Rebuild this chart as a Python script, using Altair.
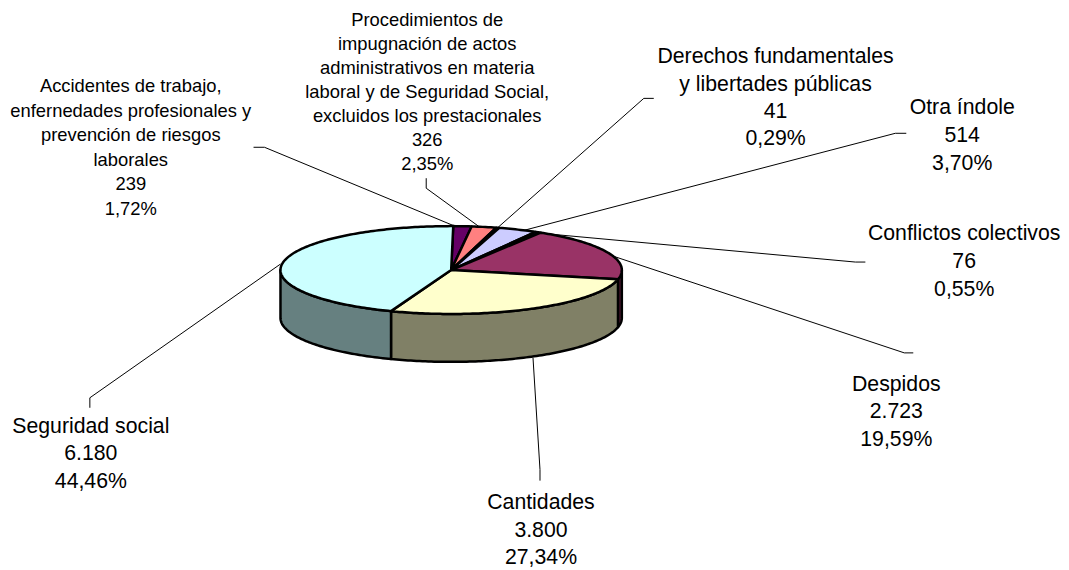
import math
import altair as alt
import pandas as pd

names = [
    ["Accidentes de trabajo,", "enfernedades profesionales y", "prevención de riesgos", "laborales"],
    ["Procedimientos de", "impugnación de actos", "administrativos en materia", "laboral y de Seguridad Social,", "excluidos los prestacionales"],
    ["Derechos fundamentales", "y libertades públicas"],
    ["Otra índole"],
    ["Conflictos colectivos"],
    ["Despidos"],
    ["Cantidades"],
    ["Seguridad social"],
]
values = [239, 326, 41, 514, 76, 2723, 3800, 6180]
value_labels = ["239", "326", "41", "514", "76", "2.723", "3.800", "6.180"]
top_colors = ["#660066", "#FF8080", "#0066CC", "#CCCCFF", "#000080", "#993366", "#FFFFCC", "#CCFFFF"]
side_colors = ["#330033", "#804040", "#003366", "#666680", "#000040", "#4D1933", "#808066", "#668080"]

# layout (image pixels)
W, H, M = 1069, 570, 8
CX, CY, RX, RY, DEPTH = 452, 270, 171, 44, 48
START = 0.7
label_x = [131, 428, 777, 964, 966, 898, 542, 91]
label_top = [86, 19, 57, 108, 234, 385, 503, 427]
label_step = [24.5, 24.2, 27.4, 28, 28, 27.5, 28, 27.5]
label_size = [18.4, 18.4, 21.3, 21.3, 21.3, 21.3, 21.3, 21.3]
leaders = [
    [(254, 147), (265, 147), (458, 227)],
    [(427, 178), (427, 188), (482, 228)],
    [(655, 98), (645, 98), (497, 229)],
    [(908, 133), (897, 133), (522, 231)],
    [(867, 262), (857, 262), (540, 233)],
    [(915, 353), (906, 353), (590, 248)],
    [(541, 481), (541, 470), (534, 358)],
    [(90, 408), (90, 398), (281, 264)],
]

total = sum(values)


def pt(deg, dy=0):
    r = math.radians(deg)
    return [CX + RX * math.sin(r), CY - RY * math.cos(r) + dy]


def arc(a0, a1):
    n = max(2, int(abs(a1 - a0)) + 2)
    return [a0 + (a1 - a0) * i / (n - 1) for i in range(n)]


def feature(ring, fill):
    ring = ring + [ring[0]]
    return {"type": "Feature", "properties": {"fill": fill},
            "geometry": {"type": "Polygon", "coordinates": [ring]}}


tops, sides = [], []
start = START
for v, tc, sc in zip(values, top_colors, side_colors):
    end = start + 360.0 * v / total
    tops.append(feature([[CX, CY]] + [pt(a) for a in arc(start, end)], tc))
    a0, a1 = max(start, 90.0), min(end, 270.0)
    if a1 > a0:
        ang = arc(a0, a1)
        sides.append(feature([pt(a) for a in ang] + [pt(a, DEPTH) for a in reversed(ang)], sc))
    start = end

text_rows = []
for i, (n, v) in enumerate(zip(names, value_labels)):
    pct = f"{100 * values[i] / total:.2f}".replace(".", ",") + "%"
    for j, line in enumerate(n + [v, pct]):
        text_rows.append({"text": line, "x": label_x[i], "y": label_top[i] + j * label_step[i],
                          "size": label_size[i]})

line_rows = [{"id": i, "o": j, "x": p[0], "y": p[1]} for i, l in enumerate(leaders) for j, p in enumerate(l)]

xs = alt.Scale(domain=[M, W - M], range=[0, W - 2 * M])
ys = alt.Scale(domain=[M, H - M], range=[0, H - 2 * M])
proj = alt.Projection(type="identity", scale=1, translate=[-M, -M])


def shapes(features):
    return (
        alt.Chart(alt.Data(values=features))
        .mark_geoshape(stroke="black", strokeWidth=2.5, strokeJoin="round")
        .encode(fill=alt.Fill("properties.fill:N", scale=None))
        .project(**proj.to_dict())
    )


lines = (
    alt.Chart(pd.DataFrame(line_rows))
    .mark_line(color="black", strokeWidth=1)
    .encode(x=alt.X("x:Q", scale=xs, axis=None), y=alt.Y("y:Q", scale=ys, axis=None),
            detail="id:N", order="o:Q")
)
texts = (
    alt.Chart(pd.DataFrame(text_rows))
    .mark_text(font="Liberation Sans", color="black", align="center", baseline="middle")
    .encode(x=alt.X("x:Q", scale=xs, axis=None), y=alt.Y("y:Q", scale=ys, axis=None),
            text="text:N", size=alt.Size("size:Q", scale=None, legend=None))
)

chart = (
    alt.layer(lines, shapes(sides), shapes(tops), texts)
    .properties(width=W - 2 * M, height=H - 2 * M, padding=0, background="white")
    .configure_view(stroke=None)
)
chart.save("out.html", embed_options={"renderer": "svg", "actions": False})
